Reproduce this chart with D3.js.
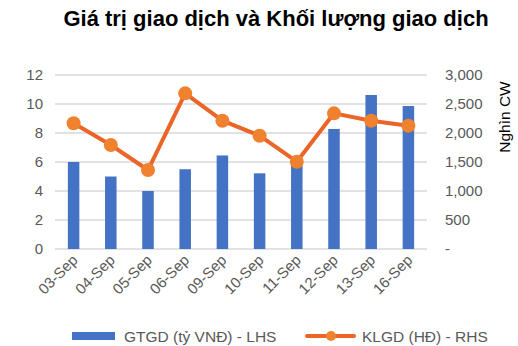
<!DOCTYPE html>
<html><head><meta charset="utf-8">
<script src="https://cdn.jsdelivr.net/npm/d3@7"></script>
<style>body{margin:0;background:#fff}svg{display:block}</style>
</head><body>
<svg id="c" width="518" height="346"></svg>
<script>
const categories = ["03-Sep","04-Sep","05-Sep","06-Sep","09-Sep","10-Sep","11-Sep","12-Sep","13-Sep","16-Sep"];
const gtgd = [6.0, 5.0, 4.0, 5.5, 6.45, 5.22, 6.1, 8.28, 10.62, 9.86];
const klgd = [2167, 1793, 1362, 2684, 2212, 1953, 1505, 2339, 2212, 2126];
const leftTicks = [0,2,4,6,8,10,12];
const rightTicks = [0,500,1000,1500,2000,2500,3000];
const title = "Giá trị giao dịch và Khối lượng giao dịch";
const rightTitle = "Nghìn CW";
const legendBar = "GTGD (tỷ VNĐ) - LHS";
const legendLine = "KLGD (HĐ) - RHS";

const svg = d3.select("#c");
const font = "Liberation Sans, Arial, sans-serif";
const m = {l:55, r:427, t:75, b:249};
const x = d3.scaleBand().domain(categories).range([m.l, m.r]);
const yL = d3.scaleLinear().domain([0,12]).range([m.b, m.t]);
const yR = d3.scaleLinear().domain([0,3000]).range([m.b, m.t]);

svg.append("text").attr("x",276).attr("y",26).attr("text-anchor","middle")
  .attr("font-family",font).attr("font-weight","bold").attr("font-size",22).attr("fill","#000").text(title);

// grid
svg.append("g").selectAll("line").data(leftTicks).join("line")
  .attr("x1",m.l).attr("x2",m.r).attr("y1",d=>yL(d)).attr("y2",d=>yL(d))
  .attr("stroke","#d9d9d9").attr("stroke-width",1.3);

// left axis
const gl = svg.append("g").attr("transform",`translate(${m.l},0)`)
  .call(d3.axisLeft(yL).tickValues(leftTicks).tickSize(0).tickPadding(12));
gl.select(".domain").remove();
gl.selectAll("text").attr("font-family",font).attr("font-size",15).attr("fill","#595959");

// right axis
const gr = svg.append("g").attr("transform",`translate(445,0)`)
  .call(d3.axisRight(yR).tickValues(rightTicks).tickSize(0).tickPadding(0)
    .tickFormat(d=> d===0 ? "-" : d3.format(",")(d)));
gr.select(".domain").remove();
gr.selectAll("text").attr("font-family",font).attr("font-size",15).attr("fill","#595959");

svg.append("text").attr("transform",`translate(510,117) rotate(-90)`).attr("text-anchor","middle")
  .attr("font-family",font).attr("font-size",15.5).attr("fill","#000").text(rightTitle);

// bars
const bw = 11.5;
svg.append("g").selectAll("rect").data(gtgd).join("rect")
  .attr("x",(d,i)=>x(categories[i])+x.bandwidth()/2-bw/2).attr("width",bw)
  .attr("y",d=>yL(d)).attr("height",d=>m.b-yL(d)).attr("fill","#4472C4");

// line
const line = d3.line().x((d,i)=>x(categories[i])+x.bandwidth()/2).y(d=>yR(d));
svg.append("path").datum(klgd).attr("d",line).attr("fill","none")
  .attr("stroke","#EB6428").attr("stroke-width",4).attr("stroke-linejoin","round");
svg.append("g").selectAll("circle").data(klgd).join("circle")
  .attr("cx",(d,i)=>x(categories[i])+x.bandwidth()/2).attr("cy",d=>yR(d)).attr("r",7)
  .attr("fill","#F0812F");

// x labels
svg.append("g").selectAll("text").data(categories).join("text")
  .attr("transform",d=>`translate(${x(d)+x.bandwidth()/2+5},${m.b+12}) rotate(-45)`)
  .attr("text-anchor","end").attr("font-family",font).attr("font-size",15).attr("fill","#595959")
  .text(d=>d);

// legend
svg.append("rect").attr("x",72).attr("y",332).attr("width",43).attr("height",8).attr("fill","#4472C4");
svg.append("text").attr("x",124).attr("y",342).attr("font-family",font).attr("font-size",15.5).attr("fill","#595959").text(legendBar);
svg.append("line").attr("x1",307).attr("x2",354).attr("y1",336).attr("y2",336).attr("stroke","#EB6428").attr("stroke-width",4).attr("stroke-linecap","round");
svg.append("circle").attr("cx",331).attr("cy",336).attr("r",5).attr("fill","#F0812F");
svg.append("text").attr("x",362).attr("y",342).attr("font-family",font).attr("font-size",15.5).attr("fill","#595959").text(legendLine);
</script>
</body></html>
